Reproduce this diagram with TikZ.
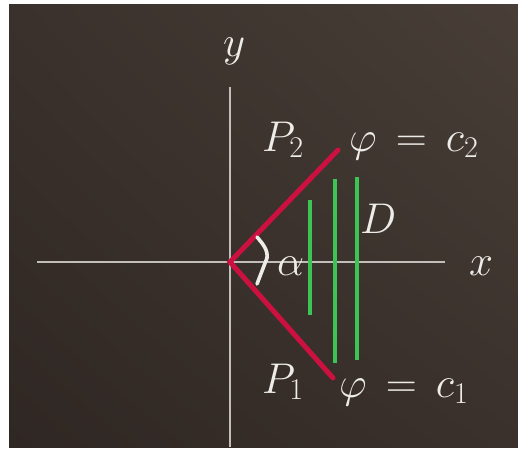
\documentclass[tikz,border=0pt]{standalone}
\usepackage{fix-cm}
\usetikzlibrary{shadings}
\definecolor{bgdark}{HTML}{2F2723}
\definecolor{bgmid}{HTML}{3A312C}
\definecolor{bglight}{HTML}{483E37}
\definecolor{axisgray}{HTML}{C2BFBB}
\definecolor{chalk}{HTML}{EEECE8}
\definecolor{redline}{HTML}{CC1040}
\definecolor{greenline}{HTML}{3CC454}
\tikzset{
  lab/.style={text=chalk, inner sep=0pt, anchor=base west, font=\fontsize{43}{47}\selectfont},
  axisline/.style={draw=axisgray, line width=2.6pt},
  redseg/.style={draw=redline, line width=5pt, line cap=round},
  greenseg/.style={draw=greenline, line width=4pt},
  anglemark/.style={draw=chalk, line width=3.6pt, line cap=round, line join=round}
}
\begin{document}
\begin{tikzpicture}[x=1pt,y=-1pt]
\useasboundingbox (0,0) rectangle (518,449);
\fill[white] (0,0) rectangle (518,449);
\shade[upper left=bgmid, upper right=bglight, lower left=bgdark, lower right=bgmid] (9,5) rectangle (518,447);
% axes
\coordinate (O) at (230,262);
\coordinate (ytop) at (230,87);
\coordinate (ybot) at (230,447);
\coordinate (xl) at (37,262);
\coordinate (xr) at (445,262);
\draw[axisline] (ybot) -- (ytop);
\draw[axisline] (xl) -- (xr);
% green lines
\coordinate (g1a) at (310,200); \coordinate (g1b) at (310,315);
\coordinate (g2a) at (335,179); \coordinate (g2b) at (335,363);
\coordinate (g3a) at (357,177); \coordinate (g3b) at (357,360);
\draw[greenseg] (g1a) -- (g1b);
\draw[greenseg] (g2a) -- (g2b);
\draw[greenseg] (g3a) -- (g3b);
% red rays
\coordinate (P2end) at (338,150);
\coordinate (P1end) at (333,378);
\draw[redseg] (P2end) -- (O) -- (P1end);
% angle mark
\coordinate (am1) at (257,237);
\coordinate (am2) at (267,258);
\coordinate (am3) at (257,284);
\draw[anglemark] (am1) .. controls (263,244) and (268,250) .. (am2) -- (am3);
% labels
\node[lab] (ylab) at (223,57) {$y$};
\node[lab] (xlab) at (469,275) {$x$};
\node[lab] (P2) at (262,151) {$P_2$};
\node[lab] (phi2) at (349,151) {$\varphi\,=\,c_2$};
\node[lab] (P1) at (262,393) {$P_1$};
\node[lab] (phi1) at (339,397) {$\varphi\,=\,c_1$};
\node[lab] (D) at (360,233) {$D$};
\node[lab] (alpha) at (277,275) {$\alpha$};
\end{tikzpicture}
\end{document}
